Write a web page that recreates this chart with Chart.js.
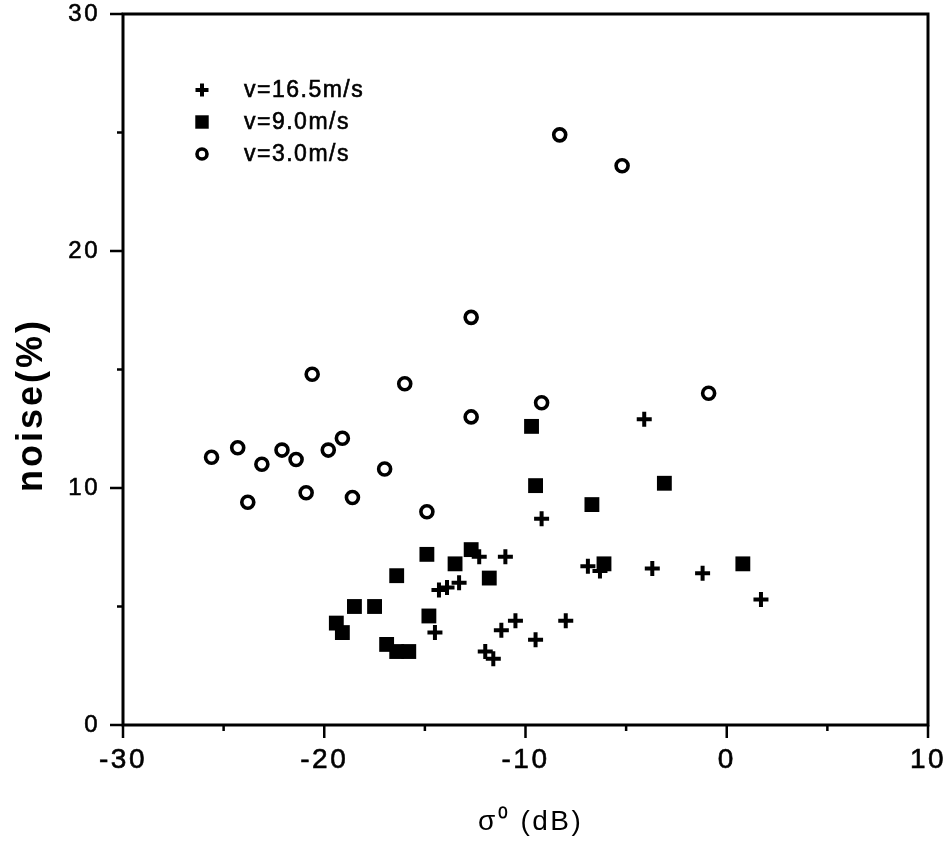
<!DOCTYPE html>
<html>
<head>
<meta charset="utf-8">
<script src="https://cdn.jsdelivr.net/npm/chart.js@4/dist/chart.umd.min.js"></script>
<style>
  html, body { margin: 0; padding: 0; background: #fff; }
  #wrap { width: 946px; height: 841px; }
</style>
</head>
<body>
<div id="wrap"><canvas id="canvas1"></canvas></div>
<script>
// values: sigma0 (dB) vs noise (%)
const labels = ['v=16.5m/s', 'v=9.0m/s', 'v=3.0m/s'];

const wind165 = [
  [-4.1, 12.9], [-9.2, 8.7], [-12.3, 7.1], [-11.0, 7.1], [-14.3, 5.7],
  [-13.9, 5.8], [-13.3, 6.0], [-6.9, 6.7], [-6.3, 6.5], [-3.7, 6.6],
  [-1.2, 6.4], [1.7, 5.3], [-14.5, 3.9], [-10.5, 4.4], [-11.2, 4.0],
  [-8.0, 4.4], [-9.5, 3.6], [-12.0, 3.1], [-11.6, 2.8]
];
const wind90 = [
  [-19.4, 4.3], [-19.1, 3.9], [-18.5, 5.0], [-17.5, 5.0], [-16.9, 3.4],
  [-16.4, 3.1], [-15.8, 3.1], [-16.4, 6.3], [-14.9, 7.2], [-14.8, 4.6],
  [-13.5, 6.8], [-12.7, 7.4], [-11.8, 6.2], [-9.7, 12.6], [-9.5, 10.1],
  [-6.7, 9.3], [-6.1, 6.8], [-3.1, 10.2], [0.8, 6.8]
];
const wind30 = [
  [-25.6, 11.3], [-24.3, 11.7], [-23.8, 9.4], [-23.1, 11.0], [-22.1, 11.6],
  [-21.4, 11.2], [-20.9, 9.8], [-20.6, 14.8], [-19.8, 11.6], [-19.1, 12.1],
  [-18.6, 9.6], [-17.0, 10.8], [-16.0, 14.4], [-14.9, 9.0], [-12.7, 17.2],
  [-12.7, 13.0], [-9.2, 13.6], [-8.3, 24.9], [-5.2, 23.6], [-0.9, 14.0]
];

const xTitle = ' σ⁰ (dB)';
const yTitle = 'noise(%)';

const FONT = '"Liberation Sans", Arial, sans-serif';
const toPts = arr => arr.map(p => ({x: p[0], y: p[1]}));

// no extra room for the end labels, the plot box is fixed
const noPad = scale => {
  scale.paddingTop = 0;
  scale.paddingBottom = 0;
  scale.paddingLeft = 0;
  scale.paddingRight = 0;
};

// frame, outward ticks, rotated y title and the inset legend
const framePlugin = {
  id: 'frame',
  beforeDraw(chart) {
    chart.ctx.letterSpacing = '2.5px';
  },
  afterDraw(chart) {
    const ctx = chart.ctx;
    const a = chart.chartArea;
    const sx = chart.scales.x, sy = chart.scales.y;
    ctx.save();
    ctx.strokeStyle = '#000';
    ctx.lineWidth = 3;
    ctx.strokeRect(a.left, a.top, a.right - a.left, a.bottom - a.top);

    ctx.lineWidth = 2.5;
    ctx.beginPath();
    sx.ticks.forEach(t => {
      const px = sx.getPixelForValue(t.value);
      const len = t.value % 10 === 0 ? 13 : 6;
      ctx.moveTo(px, a.bottom);
      ctx.lineTo(px, a.bottom + len);
    });
    sy.ticks.forEach(t => {
      const py = sy.getPixelForValue(t.value);
      const len = t.value % 10 === 0 ? 13 : 6;
      ctx.moveTo(a.left, py);
      ctx.lineTo(a.left - len, py);
    });
    ctx.stroke();

    // y title
    ctx.save();
    ctx.translate(32, 405);
    ctx.rotate(-Math.PI / 2);
    ctx.fillStyle = '#000';
    ctx.letterSpacing = '3px';
    ctx.font = 'bold 36px ' + FONT;
    ctx.textAlign = 'center';
    ctx.textBaseline = 'middle';
    ctx.fillText(yTitle, 0, 0);
    ctx.restore();

    // legend
    ctx.font = '23px ' + FONT;
    ctx.letterSpacing = '1.5px';
    ctx.textAlign = 'left';
    ctx.textBaseline = 'middle';
    chart.data.datasets.forEach((ds, i) => {
      const y = 90 + i * 32;
      const style = {
        pointStyle: ds.pointStyle,
        radius: ds.pointStyle === 'rect' ? 9.5 : (ds.pointStyle === 'cross' ? 6.5 : 5),
        borderWidth: ds.borderWidth,
        rotation: 0
      };
      ctx.save();
      ctx.strokeStyle = '#000';
      ctx.lineWidth = ds.borderWidth;
      ctx.fillStyle = ds.backgroundColor;
      Chart.helpers.drawPoint(ctx, style, 202, y);
      ctx.restore();
      ctx.fillStyle = '#000';
      ctx.strokeStyle = '#000';
      ctx.lineWidth = 0.6;
      ctx.fillText(ds.label, 244, y + 1);
      ctx.strokeText(ds.label, 244, y + 1);
    });
    ctx.restore();
  }
};

new Chart(document.getElementById('canvas1'), {
  type: 'scatter',
  data: {
    datasets: [
      {
        label: labels[0],
        data: toPts(wind165),
        pointStyle: 'cross',
        pointRadius: 7.5,
        pointHoverRadius: 7.5,
        borderWidth: 4,
        borderColor: '#000',
        backgroundColor: '#000'
      },
      {
        label: labels[1],
        data: toPts(wind90),
        pointStyle: 'rect',
        pointRadius: 10.5,
        pointHoverRadius: 10.5,
        borderWidth: 0,
        borderColor: '#000',
        backgroundColor: '#000'
      },
      {
        label: labels[2],
        data: toPts(wind30),
        pointStyle: 'circle',
        pointRadius: 6,
        pointHoverRadius: 6,
        borderWidth: 3.6,
        borderColor: '#000',
        backgroundColor: '#fff'
      }
    ]
  },
  options: {
    responsive: true,
    maintainAspectRatio: false,
    animation: false,
    events: [],
    layout: {
      padding: { left: 0, top: 14, right: 18, bottom: 0 }
    },
    plugins: {
      legend: { display: false },
      tooltip: { enabled: false }
    },
    scales: {
      x: {
        type: 'linear',
        min: -30,
        max: 10,
        grid: { display: false, drawTicks: false },
        border: { display: false },
        ticks: {
          stepSize: 5,
          padding: 18,
          color: '#000',
          textStrokeColor: '#000',
          textStrokeWidth: 0.6,
          maxRotation: 0,
          autoSkip: false,
          font: { size: 28, family: FONT },
          callback: v => (v % 10 === 0 ? String(v) : '')
        },
        title: {
          display: true,
          text: xTitle,
          color: '#000',
          padding: { top: 0, bottom: 2 },
          font: { size: 28, family: FONT }
        },
        afterFit: scale => { scale.height = 116; noPad(scale); }
      },
      y: {
        type: 'linear',
        min: 0,
        max: 30,
        grid: { display: false, drawTicks: false },
        border: { display: false },
        ticks: {
          stepSize: 5,
          padding: 23,
          color: '#000',
          textStrokeColor: '#000',
          textStrokeWidth: 0.6,
          autoSkip: false,
          font: { size: 24, family: FONT },
          callback: v => (v % 10 === 0 ? String(v) : '')
        },
        afterFit: scale => { scale.width = 123; noPad(scale); }
      }
    }
  },
  plugins: [framePlugin]
});
</script>
</body>
</html>
